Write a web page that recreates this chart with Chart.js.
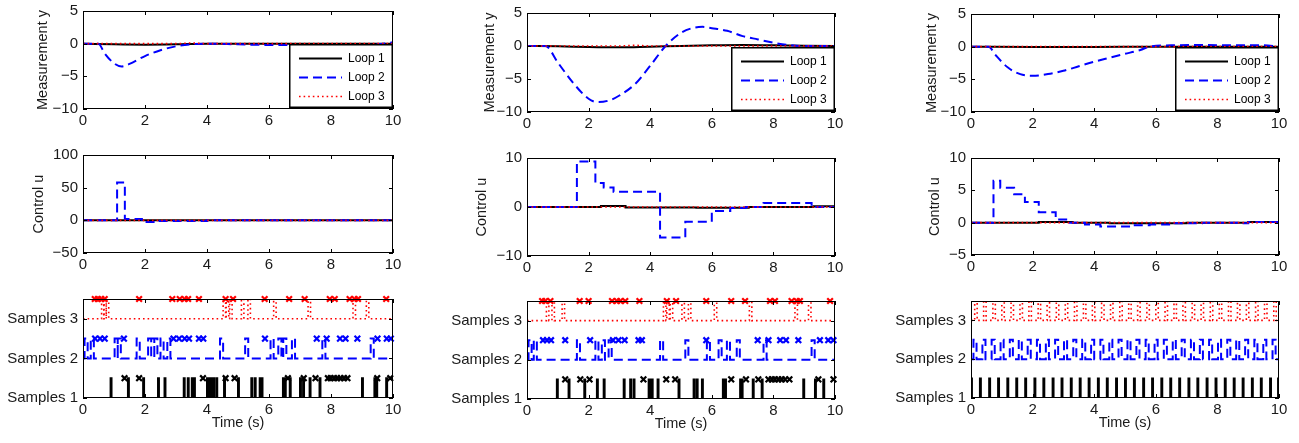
<!DOCTYPE html>
<html>
<head>
<meta charset="utf-8">
<script src="https://cdn.jsdelivr.net/npm/chart.js@4.4.0/dist/chart.umd.min.js"></script>
<style>
  html, body { margin: 0; padding: 0; background: #fff; }
  body { width: 1299px; height: 443px; position: relative; overflow: hidden; }
  .panel { position: absolute; }
  .panel canvas { display: block; }
</style>
</head>
<body>
<script>
const timeTicks = [0, 2, 4, 6, 8, 10];
const loopNames = ['Loop 1', 'Loop 2', 'Loop 3'];
const sampleNames = ['Samples 1', 'Samples 2', 'Samples 3'];

// left column: measurement y
const leftY1t = [0, 1, 2, 3, 4, 6, 8, 10];
const leftY1v = [0, -0.1, -0.15, -0.1, 0, 0, 0, 0];
const leftY2t = [0, 0.5, 0.7, 1.0, 1.25, 1.5, 2.0, 2.5, 3.0, 3.5, 4.0, 5.0, 6.0, 7.0, 8.0, 9.0, 9.5, 10];
const leftY2v = [0, 0, -1.5, -3.0, -3.5, -3.1, -1.9, -1.0, -0.4, -0.1, 0, -0.1, -0.2, -0.2, -0.2, -0.2, -0.1, 0.2];
const leftY3t = [0, 3, 3.5, 4, 10];
const leftY3v = [0, 0, 0.1, 0, 0];
// left column: control u
const leftU1t = [0, 10];
const leftU1v = [0, 0];
const leftU2t = [0, 1.1, 1.35, 1.9, 2.4, 4.0, 10];
const leftU2v = [0, 58, 2, -2.5, -1, 0, 0];
const leftU3t = [0, 10];
const leftU3v = [0, 0];
// left column: sample instants and missed samples (x)
const leftS1 = [0.89, 1.45, 1.94, 2.42, 2.63, 3.25, 3.38, 3.51, 3.58, 4.0, 4.05, 4.11, 4.2, 4.3, 4.55, 5.0, 5.43, 5.54, 5.7, 5.76, 6.45, 6.51, 6.67, 7.0, 7.1, 7.31, 7.63, 9.0, 9.4, 9.46, 9.78];
const leftX1 = [1.34, 1.81, 3.87, 4.6, 4.89, 6.61, 7.12, 7.5, 7.9, 7.99, 8.1, 8.2, 8.31, 8.42, 8.53, 9.49, 9.91];
const leftS2 = [0.05, 0.25, 1.02, 1.12, 1.73, 2.1, 2.2, 2.3, 2.5, 2.72, 4.42, 5.23, 6.05, 6.3, 6.46, 6.74, 7.72, 9.28];
const leftX2 = [0.39, 0.55, 0.7, 1.32, 2.92, 3.1, 3.28, 3.42, 3.74, 3.88, 5.87, 7.54, 7.86, 8.29, 8.47, 8.85, 9.5, 9.8, 9.93];
const leftS3 = [0.6, 0.67, 0.75, 4.52, 4.62, 4.73, 5.11, 5.32, 6.15, 7.26, 8.71, 9.14];
const leftX3 = [0.38, 0.48, 0.59, 0.7, 1.81, 2.88, 3.12, 3.28, 3.39, 3.74, 4.6, 4.84, 5.86, 6.65, 7.15, 7.96, 8.12, 8.6, 8.76, 8.87, 9.78];

// middle column: measurement y
const midY1t = [0, 1, 2, 3, 4, 5, 6, 7, 8, 9, 10];
const midY1v = [0, -0.05, -0.15, -0.2, -0.1, 0, 0.1, 0.15, 0.1, 0.05, 0];
const midY2t = [0, 0.6, 1.0, 1.5, 2.0, 2.3, 2.7, 3.0, 3.5, 4.0, 4.5, 5.0, 5.4, 5.7, 6.0, 6.5, 7.0, 7.5, 8.0, 8.5, 9.0, 10];
const midY2v = [0, 0, -2.5, -5.6, -8.0, -8.5, -8.2, -7.5, -5.8, -3.0, 0, 2.0, 2.75, 2.9, 2.7, 2.3, 1.5, 1.0, 0.5, 0.15, 0, 0];
const midY3t = [0, 3, 3.5, 4, 10];
const midY3v = [0, 0, 0.1, 0, 0];
// middle column: control u
const midU1t = [0, 2.4, 3.2, 5.5, 7.2, 9.3, 10];
const midU1v = [0, 0.2, -0.1, -0.15, 0, 0.15, 0];
const midU2t = [0, 1.62, 2.22, 2.49, 2.81, 4.32, 5.14, 6.0, 6.6, 7.1, 7.68, 9.24, 10];
const midU2v = [0, 9.3, 4.9, 4.0, 3.1, -6.2, -3.0, -0.8, -0.2, 0, 0.8, 0, 0];
const midU3t = [0, 10];
const midU3v = [0, 0];
// middle column: sample instants and missed samples (x)
const midS1 = [0.97, 1.35, 1.86, 2.27, 2.49, 3.14, 3.35, 3.46, 3.95, 4.0, 4.05, 4.24, 4.92, 5.41, 5.51, 5.68, 6.36, 6.43, 6.92, 6.97, 7.33, 7.62, 8.97, 9.35, 9.62];
const midX1 = [1.24, 1.73, 2.03, 3.78, 4.52, 4.81, 6.63, 7.11, 7.51, 7.84, 7.95, 8.05, 8.16, 8.27, 8.38, 8.52, 9.46, 9.95];
const midS2 = [0.05, 0.22, 1.62, 2.22, 2.43, 2.65, 4.32, 5.14, 5.84, 6.22, 6.49, 6.81, 7.68, 9.24];
const midX2 = [0.52, 0.65, 0.78, 1.24, 2.05, 2.79, 2.97, 3.17, 3.62, 3.73, 5.82, 7.49, 7.84, 8.22, 8.41, 8.81, 9.51, 9.78, 9.95];
const midS3 = [0.63, 0.81, 1.14, 4.43, 4.54, 4.65, 5.03, 5.24, 6.08, 7.22, 8.7, 9.14];
const midX3 = [0.49, 0.59, 0.76, 1.71, 2.0, 2.76, 2.92, 3.03, 3.19, 3.65, 4.54, 4.84, 5.82, 6.63, 7.08, 7.89, 8.05, 8.59, 8.76, 8.86, 9.84];

// right column: measurement y
const rightY1t = [0, 2, 4, 6, 8, 10];
const rightY1v = [0, -0.05, -0.05, 0, 0, 0];
const rightY2t = [0, 0.57, 0.8, 1.2, 1.6, 2.0, 2.5, 3.0, 3.5, 4.0, 4.5, 5.0, 5.5, 5.8, 6.5, 7.5, 8.5, 9.5, 10];
const rightY2v = [0, 0, -1.3, -3.2, -4.2, -4.45, -4.2, -3.7, -3.0, -2.3, -1.7, -1.1, -0.5, 0, 0.2, 0.25, 0.2, 0.2, 0];
const rightY3t = [0, 10];
const rightY3v = [0, 0];
// right column: control u
const rightU1t = [0, 2.2, 3.3, 4.5, 6.0, 7.0, 9.0, 10];
const rightU1v = [0, 0.1, 0, -0.1, -0.1, 0, 0.1, 0];
const rightU2t = [0, 0.73, 0.95, 1.4, 1.75, 2.2, 2.75, 3.2, 3.7, 4.2, 5.2, 5.8, 6.6, 7.5, 8.7, 9.0, 10];
const rightU2v = [0, 6.5, 5.4, 4.4, 3.2, 1.6, 0.5, 0, -0.3, -0.6, -0.4, -0.3, -0.1, 0, -0.1, 0.1, 0.1];
const rightU3t = [0, 10];
const rightU3v = [0, 0];
// right column: sample instants (no misses)
const rightS1 = [0, 0.29, 0.59, 0.88, 1.18, 1.47, 1.76, 2.06, 2.35, 2.65, 2.94, 3.24, 3.53, 3.82, 4.12, 4.41, 4.71, 5.0, 5.29, 5.59, 5.88, 6.18, 6.47, 6.76, 7.06, 7.35, 7.65, 7.94, 8.24, 8.53, 8.82, 9.12, 9.41, 9.71, 9.97];
const rightS2 = [0.08, 0.37, 0.67, 0.96, 1.26, 1.55, 1.84, 2.14, 2.43, 2.73, 3.02, 3.32, 3.61, 3.9, 4.2, 4.49, 4.79, 5.08, 5.37, 5.67, 5.96, 6.26, 6.55, 6.84, 7.14, 7.43, 7.73, 8.02, 8.32, 8.61, 8.9, 9.2, 9.49, 9.79];
const rightS3 = [0.12, 0.41, 0.71, 1.0, 1.3, 1.59, 1.88, 2.18, 2.47, 2.77, 3.06, 3.36, 3.65, 3.94, 4.24, 4.53, 4.83, 5.12, 5.41, 5.71, 6.0, 6.3, 6.59, 6.88, 7.18, 7.47, 7.77, 8.06, 8.36, 8.65, 8.94, 9.24, 9.53, 9.83];

const FONT = '"Liberation Sans", Arial, Helvetica, sans-serif';
const TEXT = '#1a1a1a';
Chart.defaults.font.family = FONT;

// line look of each loop
const styles = [
  { color: '#000000', width: 2, dash: [] },
  { color: '#0000ff', width: 2, dash: [9, 5] },
  { color: '#ff0000', width: 1.6, dash: [1.6, 3] }
];
const pulseWidth = [0.03, 0.1, 0.08];

function pts(t, v) {
  return t.map((x, i) => ({ x: x, y: v[i] }));
}

// rectangular pulse train from sample instants
function pulses(times, base, w) {
  let out = [{ x: 0, y: base }];
  times.forEach(t => {
    out.push({ x: t, y: base + 0.5 });
    out.push({ x: t + w, y: base });
  });
  out.push({ x: 10, y: base });
  return out;
}

function lineSet(i, data, extra) {
  let s = styles[i];
  return Object.assign({
    label: loopNames[i],
    data: data,
    borderColor: s.color,
    borderWidth: s.width,
    borderDash: s.dash,
    pointRadius: 0,
    fill: false,
    order: 2 - i
  }, extra || {});
}

function missSet(i, times) {
  let s = styles[i];
  return {
    label: 'miss' + (i + 1),
    data: times.map(t => ({ x: t, y: i + 1.5 })),
    showLine: false,
    pointStyle: 'crossRot',
    pointRadius: 4,
    pointBorderWidth: 2.2,
    pointBorderColor: s.color,
    borderColor: s.color,
    clip: false,
    order: -1
  };
}

const minus = v => String(v).replace('-', '\u2212');

// box, inward ticks and the legend
const framePlugin = {
  id: 'frame',
  afterDatasetsDraw(chart) {
    const { ctx, chartArea: a, scales } = chart;
    ctx.save();
    ctx.strokeStyle = '#000';
    ctx.lineWidth = 1;
    ctx.setLineDash([]);
    ctx.beginPath();
    scales.x.ticks.forEach(t => {
      let px = Math.round(scales.x.getPixelForValue(t.value)) + 0.5;
      ctx.moveTo(px, a.bottom); ctx.lineTo(px, a.bottom - 4);
      ctx.moveTo(px, a.top); ctx.lineTo(px, a.top + 4);
    });
    scales.y.ticks.forEach(t => {
      let py = Math.round(scales.y.getPixelForValue(t.value)) + 0.5;
      ctx.moveTo(a.left, py); ctx.lineTo(a.left + 4, py);
      ctx.moveTo(a.right, py); ctx.lineTo(a.right - 4, py);
    });
    ctx.stroke();
    ctx.strokeRect(Math.round(a.left) + 0.5, Math.round(a.top) + 0.5, Math.round(a.width) - 1, Math.round(a.height) - 1);
    ctx.restore();
  },
  afterDraw(chart, args, opts) {
    if (!opts.legend) return;
    const { ctx, chartArea: a } = chart;
    const w = 104, h = 64;
    const x0 = Math.round(a.right) - w, y0 = Math.round(a.bottom) - h - 1;
    ctx.save();
    ctx.fillStyle = '#fff';
    ctx.fillRect(x0, y0, w, h);
    ctx.strokeStyle = '#000';
    ctx.lineWidth = 1.5;
    ctx.strokeRect(x0 + 0.75, y0 + 0.75, w - 1.5, h - 1.5);
    chart.data.datasets.forEach((ds, i) => {
      let y = y0 + 14 + i * 19;
      ctx.beginPath();
      ctx.setLineDash(ds.borderDash);
      ctx.lineWidth = ds.borderWidth;
      ctx.strokeStyle = ds.borderColor;
      ctx.moveTo(x0 + 10, y + 0.5);
      ctx.lineTo(x0 + 53, y + 0.5);
      ctx.stroke();
      ctx.setLineDash([]);
      ctx.fillStyle = '#000';
      ctx.font = '12px ' + FONT;
      ctx.textBaseline = 'middle';
      ctx.fillText(ds.label, x0 + 59, y + 1);
    });
    ctx.restore();
  }
};

const PAD_T = 9, PAD_R = 14;

function panel(o) {
  const [L, T, R, B] = o.box;
  const div = document.createElement('div');
  div.className = 'panel';
  const w = o.yw + (R - L) + PAD_R;
  const h = PAD_T + (B - T) + o.xh;
  div.style.left = (L - o.yw) + 'px';
  div.style.top = (T - PAD_T) + 'px';
  const cv = document.createElement('canvas');
  cv.width = w;
  cv.height = h;
  div.appendChild(cv);
  document.body.appendChild(div);

  new Chart(cv, {
    type: 'line',
    data: { datasets: o.datasets },
    options: {
      responsive: false,
      animation: false,
      layout: { padding: { top: PAD_T, right: PAD_R, left: 0, bottom: 0 } },
      plugins: {
        legend: { display: false },
        tooltip: { enabled: false },
        frame: { legend: !!o.legend }
      },
      scales: {
        x: {
          type: 'linear', min: 0, max: 10,
          afterBuildTicks: s => { s.ticks = timeTicks.map(v => ({ value: v })); },
          afterFit: s => { s.height = o.xh; },
          grid: { display: false, drawTicks: false },
          border: { display: false },
          ticks: { padding: 3, color: TEXT, font: { size: 15 }, maxRotation: 0, autoSkip: false },
          title: o.xTitle
            ? { display: true, text: o.xTitle, color: TEXT, font: { size: 14.5 }, padding: { top: 0, bottom: 3 } }
            : { display: false }
        },
        y: {
          type: 'linear', min: o.yMin, max: o.yMax,
          afterBuildTicks: s => { s.ticks = o.yTicks.map(v => ({ value: v })); },
          afterFit: s => { s.width = o.yw; },
          grid: { display: false, drawTicks: false },
          border: { display: false },
          ticks: { padding: 5, color: TEXT, font: { size: 15 }, autoSkip: false, callback: o.yLabel || minus },
          title: o.yTitle
            ? { display: true, text: o.yTitle, color: TEXT, font: { size: 14.5 }, padding: { top: 0, bottom: 0 } }
            : { display: false }
        }
      }
    },
    plugins: [framePlugin]
  });
}

function measurePanel(box, yw, t1, v1, t2, v2, t3, v3) {
  const smooth = { cubicInterpolationMode: 'monotone' };
  panel({
    box: box, yw: yw, xh: 24, legend: true,
    yMin: -10, yMax: 5, yTicks: [-10, -5, 0, 5], yTitle: 'Measurement y',
    datasets: [lineSet(0, pts(t1, v1), smooth), lineSet(1, pts(t2, v2), smooth), lineSet(2, pts(t3, v3), smooth)]
  });
}

function controlPanel(box, yw, yMin, yMax, yTicks, t1, v1, t2, v2, t3, v3) {
  const step = { stepped: true };
  panel({
    box: box, yw: yw, xh: 24,
    yMin: yMin, yMax: yMax, yTicks: yTicks, yTitle: 'Control u',
    datasets: [lineSet(0, pts(t1, v1), step), lineSet(1, pts(t2, v2), step), lineSet(2, pts(t3, v3), step)]
  });
}

function samplePanel(box, yw, s1, s2, s3, x1, x2, x3) {
  const step = { stepped: true };
  let sets = [
    lineSet(0, pulses(s1, 1, pulseWidth[0]), step),
    lineSet(1, pulses(s2, 2, pulseWidth[1]), step),
    lineSet(2, pulses(s3, 3, pulseWidth[2]), step)
  ];
  if (x1) sets.push(missSet(0, x1), missSet(1, x2), missSet(2, x3));
  panel({
    box: box, yw: yw, xh: 37, xTitle: 'Time (s)',
    yMin: 1, yMax: 3.5, yTicks: [1, 2, 3], yLabel: v => sampleNames[v - 1],
    datasets: sets
  });
}

// left column
measurePanel([83, 6, 393, 109], 49, leftY1t, leftY1v, leftY2t, leftY2v, leftY3t, leftY3v);
controlPanel([83, 150, 393, 253], 53, -50, 100, [-50, 0, 50, 100], leftU1t, leftU1v, leftU2t, leftU2v, leftU3t, leftU3v);
samplePanel([83, 294, 393, 398], 83, leftS1, leftS2, leftS3, leftX1, leftX2, leftX3);

// middle column
measurePanel([527, 8, 835, 112], 46, midY1t, midY1v, midY2t, midY2v, midY3t, midY3v);
controlPanel([527, 153, 835, 256], 54, -10, 10, [-10, 0, 10], midU1t, midU1v, midU2t, midU2v, midU3t, midU3v);
samplePanel([527, 296, 835, 399], 88, midS1, midS2, midS3, midX1, midX2, midX3);

// right column
measurePanel([971, 9, 1279, 112], 48, rightY1t, rightY1v, rightY2t, rightY2v, rightY3t, rightY3v);
controlPanel([971, 153, 1279, 255], 45, -5, 10, [-5, 0, 5, 10], rightU1t, rightU1v, rightU2t, rightU2v, rightU3t, rightU3v);
samplePanel([971, 296, 1279, 398], 88, rightS1, rightS2, rightS3);
</script>
</body>
</html>
